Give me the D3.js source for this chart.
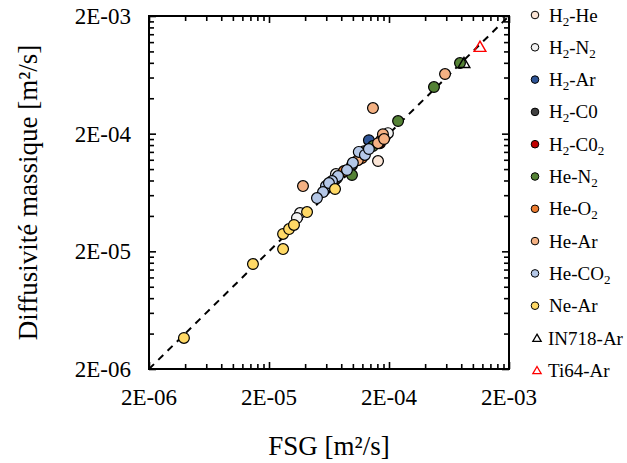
<!DOCTYPE html>
<html><head><meta charset="utf-8">
<script src="https://cdn.jsdelivr.net/npm/d3@7"></script>
<style>body{margin:0;background:#fff} svg{display:block}</style>
</head><body><svg id="c" width="627" height="463"></svg>
<script>
// [FSG, Diffusivité massique] in m²/s
const h2He   = [[1.62e-4,1.17e-4],[1.85e-4,1.87e-4]];
const h2N2   = [[3.63e-5,4.23e-5],[3.42e-5,3.84e-5],[1.96e-4,2.02e-4],[7.23e-5,9.08e-5]];
const h2Ar   = [[1.36e-4,1.76e-4]];
const h2CO   = [[7.37e-5,8.39e-5],[9.83e-5,1.08e-4],[1.24e-4,1.42e-4]];
const h2CO2  = [[1.68e-4,1.66e-4]];
const heN2   = [[7.81e-4,7.96e-4],[4.74e-4,4.98e-4],[2.38e-4,2.56e-4],[9.83e-5,8.9e-5],[1.47e-4,1.57e-4]];
const heO2   = [[1.72e-4,1.76e-4],[1.19e-4,1.24e-4],[8.43e-5,9.62e-5]];
const heAr   = [[1.47e-4,3.30e-4],[3.84e-5,7.17e-5],[5.86e-4,6.42e-4],[1.78e-4,1.98e-4],[1.62e-4,1.66e-4],[1.82e-4,1.80e-4],[1.10e-4,1.19e-4]];
const heCO2  = [[1.12e-4,1.40e-4],[1.26e-4,1.32e-4],[1.36e-4,1.48e-4],[1.00e-4,1.13e-4],[8.93e-5,9.81e-5],[7.52e-5,8.72e-5],[6.70e-5,7.91e-5],[5.97e-5,7.17e-5],[5.64e-5,6.38e-5],[5.02e-5,5.67e-5],[6.32e-5,7.61e-5]];
const neAr   = [[3.91e-6,3.67e-6],[1.47e-5,1.56e-5],[2.62e-5,2.81e-5],[2.62e-5,2.09e-5],[2.94e-5,3.09e-5],[3.23e-5,3.35e-5],[4.15e-5,4.31e-5],[7.10e-5,6.77e-5]];
const in718Ar = [[8.43e-4,7.96e-4]];
const ti64Ar  = [[1.146e-3,1.09e-3]];

const seriesLabels = ["H_2-He","H_2-N_2","H_2-Ar","H_2-C0","H_2-C0_2","He-N_2","He-O_2","He-Ar","He-CO_2","Ne-Ar","IN718-Ar","Ti64-Ar"];
const seriesData   = [h2He,h2N2,h2Ar,h2CO,h2CO2,heN2,heO2,heAr,heCO2,neAr,in718Ar,ti64Ar];
const seriesColors = ["#FBE5D6","#F2F2F2","#2F5597","#404040","#C00000","#548235","#ED7D31","#F4B183","#B4C7E7","#FFD966","#000000","#FF0000"];
const seriesShapes = ["circle","circle","circle","circle","circle","circle","circle","circle","circle","circle","triangle","triangle"];

const majorTicks = [2e-6,2e-5,2e-4,2e-3];
const tickLabels = ["2E-06","2E-05","2E-04","2E-03"];
const domain = [2e-6,2e-3];

const svg = d3.select("#c");
const L=149,R=509,T=16,B=369;
const x = d3.scaleLog().domain(domain).range([L,R]);
const y = d3.scaleLog().domain(domain).range([B,T]);

const minorTicks=[];
majorTicks.slice(0,-1).forEach(m=>{for(let k=2;k<=9;k++) minorTicks.push(m*k);});

const font="'Liberation Serif','Times New Roman',serif";

// diagonal y = x
svg.append("line")
  .attr("x1",x(domain[0])).attr("y1",y(domain[0]))
  .attr("x2",x(domain[1])).attr("y2",y(domain[1]))
  .attr("stroke","#000").attr("stroke-width",2).attr("stroke-dasharray","7,6");

// axes: ticks inward on all four sides
function ax(gen, tx, ty, vals, size){
  const g=svg.append("g").attr("transform",`translate(${tx},${ty})`)
    .call(gen.tickValues(vals).tickSizeInner(-size).tickSizeOuter(0).tickFormat(""));
  g.select(".domain").remove();
  g.selectAll(".tick line").attr("stroke","#000").attr("stroke-width",1.6);
  return g;
}
[[d3.axisBottom(x),0,B],[d3.axisTop(x),0,T],[d3.axisLeft(y),L,0],[d3.axisRight(y),R,0]].forEach(([gen,tx,ty])=>{
  ax(gen,tx,ty,minorTicks,5);
});
[[d3.axisBottom(x),0,B],[d3.axisTop(x),0,T],[d3.axisLeft(y),L,0],[d3.axisRight(y),R,0]].forEach(([gen,tx,ty])=>{
  ax(gen,tx,ty,majorTicks,7);
});

svg.append("rect").attr("x",L).attr("y",T).attr("width",R-L).attr("height",B-T)
  .attr("fill","none").attr("stroke","#000").attr("stroke-width",2);

// tick labels
svg.append("g").selectAll("text").data(majorTicks).join("text")
  .attr("x",d=>x(d)).attr("y",405).attr("text-anchor","middle")
  .attr("font-family",font).attr("font-size",23).attr("fill","#000")
  .text((d,i)=>tickLabels[i]);
svg.append("g").selectAll("text").data(majorTicks).join("text")
  .attr("x",131).attr("y",d=>y(d)+8).attr("text-anchor","end")
  .attr("font-family",font).attr("font-size",23).attr("fill","#000")
  .text((d,i)=>tickLabels[i]);

// axis titles
svg.append("text").attr("x",(L+R)/2).attr("y",455).attr("text-anchor","middle")
  .attr("font-family",font).attr("font-size",27).text("FSG [m²/s]");
svg.append("text").attr("transform",`translate(37,${(T+B)/2}) rotate(-90)`).attr("text-anchor","middle")
  .attr("font-family",font).attr("font-size",27).text("Diffusivité massique [m²/s]");

const tri = d3.symbol().type(d3.symbolTriangle);

// points
seriesData.forEach((data,i)=>{
  const g=svg.append("g");
  if(seriesShapes[i]==="circle"){
    g.selectAll("circle").data(data).join("circle")
      .attr("cx",d=>x(d[0])).attr("cy",d=>y(d[1])).attr("r",5.4)
      .attr("fill",seriesColors[i]).attr("stroke","#000").attr("stroke-width",1.2);
  } else {
    g.selectAll("path").data(data).join("path")
      .attr("d",tri.size(60)())
      .attr("transform",d=>`translate(${x(d[0])},${y(d[1])+1})`)
      .attr("fill","none").attr("stroke",seriesColors[i]).attr("stroke-width",1.4);
  }
});

// legend
const lg=svg.append("g");
seriesLabels.forEach((lab,i)=>{
  const cy=15+i*32.3;
  if(seriesShapes[i]==="circle"){
    lg.append("circle").attr("cx",535).attr("cy",cy).attr("r",3.8)
      .attr("fill",seriesColors[i]).attr("stroke","#000").attr("stroke-width",1);
  } else {
    lg.append("path").attr("d",tri.size(30)()).attr("transform",`translate(537,${cy+1})`)
      .attr("fill","none").attr("stroke",seriesColors[i]).attr("stroke-width",1.3);
  }
  const t=lg.append("text").attr("x",lab.startsWith("IN")||lab.startsWith("Ti")?548:549).attr("y",cy+6.5)
    .attr("font-family",font).attr("font-size",19).attr("fill","#000");
  const parts=lab.split("_");
  t.append("tspan").text(parts[0]);
  for(let p=1;p<parts.length;p++){
    t.append("tspan").attr("font-size",13).attr("dy",4).text(parts[p][0]);
    t.append("tspan").attr("dy",-4).text(parts[p].slice(1));
  }
});
</script></body></html>
